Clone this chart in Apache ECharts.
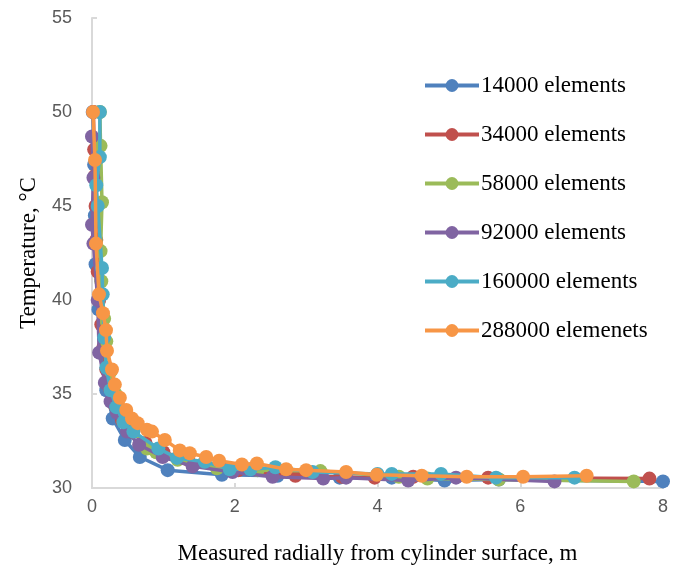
<!DOCTYPE html>
<html>
<head>
<meta charset="utf-8">
<script src="https://cdn.jsdelivr.net/npm/echarts@6/dist/echarts.min.js"></script>
<style>html,body{margin:0;padding:0;background:#fff}#c{width:676px;height:567px}</style>
</head>
<body>
<div id="c"></div>
<script>
var seriesNames = ['14000 elements','34000 elements','58000 elements','92000 elements','160000 elements','288000 elemenets'];
var xTicks = [0,2,4,6,8];
var yTicks = [30,35,40,45,50,55];

var s14000 = [[0.01,50.0],[0.03,47.2],[0.04,44.5],[0.05,41.9],[0.09,39.5],[0.14,37.2],[0.2,35.2],[0.29,33.7],[0.46,32.55],[0.67,31.65],[1.06,30.95],[1.82,30.7],[2.6,30.65],[3.47,30.55],[4.2,30.55],[4.94,30.4],[5.7,30.45],[8.0,30.35]];
var s34000 = [[0.02,50.0],[0.03,48.0],[0.04,46.6],[0.05,45.0],[0.06,43.2],[0.08,41.5],[0.1,40.0],[0.13,38.7],[0.16,37.5],[0.2,36.3],[0.25,35.3],[0.32,34.4],[0.42,33.6],[0.55,33.0],[0.75,32.4],[1.0,31.9],[1.35,31.5],[1.8,31.2],[2.05,30.95],[2.85,30.65],[3.5,30.6],[3.96,30.55],[4.5,30.6],[5.55,30.55],[7.81,30.5]];
var s58000 = [[0.11,50.0],[0.12,48.2],[0.14,45.2],[0.12,42.6],[0.13,41.0],[0.17,39.0],[0.2,37.8],[0.26,36.2],[0.33,35.0],[0.42,34.0],[0.55,33.2],[0.77,32.1],[0.9,31.9],[1.2,31.5],[1.75,31.05],[2.32,30.95],[3.2,30.9],[4.3,30.6],[4.7,30.5],[5.7,30.45],[7.59,30.35]];
var s92000 = [[0.0,48.7],[0.02,46.5],[0.0,44.0],[0.02,43.0],[0.08,40.0],[0.1,37.2],[0.18,35.6],[0.26,34.6],[0.35,34.0],[0.49,33.0],[0.66,32.3],[0.99,31.65],[1.41,31.15],[1.97,30.85],[2.53,30.6],[3.24,30.5],[3.56,30.55],[4.43,30.4],[5.1,30.55],[6.48,30.35]];
var s160000 = [[0.11,50.0],[0.11,47.6],[0.06,46.1],[0.08,45.0],[0.14,41.7],[0.15,40.3],[0.17,38.0],[0.2,36.4],[0.26,35.2],[0.34,34.3],[0.44,33.5],[0.58,33.0],[0.93,32.1],[1.19,31.6],[1.58,31.4],[1.93,31.0],[2.22,31.0],[2.57,31.1],[3.09,30.85],[4.0,30.75],[4.2,30.75],[4.89,30.75],[5.66,30.55],[6.76,30.55]];
var s288000 = [[0.014,50.0],[0.042,47.45],[0.056,43.0],[0.098,40.3],[0.154,39.3],[0.196,38.4],[0.21,37.3],[0.28,36.3],[0.32,35.5],[0.39,34.8],[0.48,34.15],[0.56,33.7],[0.64,33.45],[0.77,33.1],[0.84,33.0],[1.02,32.55],[1.23,32.0],[1.37,31.85],[1.6,31.65],[1.78,31.45],[2.1,31.25],[2.31,31.3],[2.72,31.0],[3.0,30.95],[3.56,30.85],[3.99,30.7],[4.62,30.65],[5.25,30.6],[6.04,30.6],[6.93,30.65]];

var allData = [s14000,s34000,s58000,s92000,s160000,s288000];
var colors = ['#4F81BD','#C0504D','#9BBB59','#8064A2','#4BACC6','#F79646'];

var chart = echarts.init(document.getElementById('c'), null, {renderer:'canvas'});
var series = allData.map(function(d,i){
  return {
    name: seriesNames[i], type:'line', data:d, symbol:'circle', symbolSize:14,
    showAllSymbol:true, lineStyle:{width:3.5,color:colors[i]}, itemStyle:{color:colors[i]},
    emphasis:{disabled:true}, animation:false, z:2+i
  };
});
chart.setOption({
  animation:false,
  color:colors,
  grid:{left:92,right:13,top:18,bottom:79,containLabel:false,outerBoundsMode:'none'},
  legend:{
    orient:'vertical', left:418, top:69, itemWidth:54, itemHeight:16, itemGap:26,
    data:seriesNames,
    lineStyle:{width:4},
    textStyle:{fontFamily:'Liberation Serif',fontSize:23,color:'#000',padding:[0,0,0,-3]}
  },
  xAxis:{
    type:'value', min:xTicks[0], max:xTicks[xTicks.length-1], interval:2,
    name:'Measured radially from cylinder surface, m', nameLocation:'middle', nameGap:54,
    nameTextStyle:{fontFamily:'Liberation Serif',fontSize:23,color:'#000'},
    axisLine:{show:true,lineStyle:{color:'#D9D9D9',width:2}},
    axisTick:{show:true,inside:true,length:5,lineStyle:{color:'#D9D9D9',width:2}},
    axisLabel:{fontFamily:'Liberation Sans',fontSize:18,color:'#595959',margin:10},
    splitLine:{show:false}
  },
  yAxis:{
    type:'value', min:yTicks[0], max:yTicks[yTicks.length-1], interval:5,
    name:'Temperature, °C', nameLocation:'middle', nameGap:52, nameRotate:90,
    nameTextStyle:{fontFamily:'Liberation Serif',fontSize:23,color:'#000'},
    axisLine:{show:true,lineStyle:{color:'#D9D9D9',width:2}},
    axisTick:{show:true,inside:true,length:5,lineStyle:{color:'#D9D9D9',width:2}},
    axisLabel:{fontFamily:'Liberation Sans',fontSize:18,color:'#595959',margin:20},
    splitLine:{show:false}
  },
  series:series
});
</script>
</body>
</html>
